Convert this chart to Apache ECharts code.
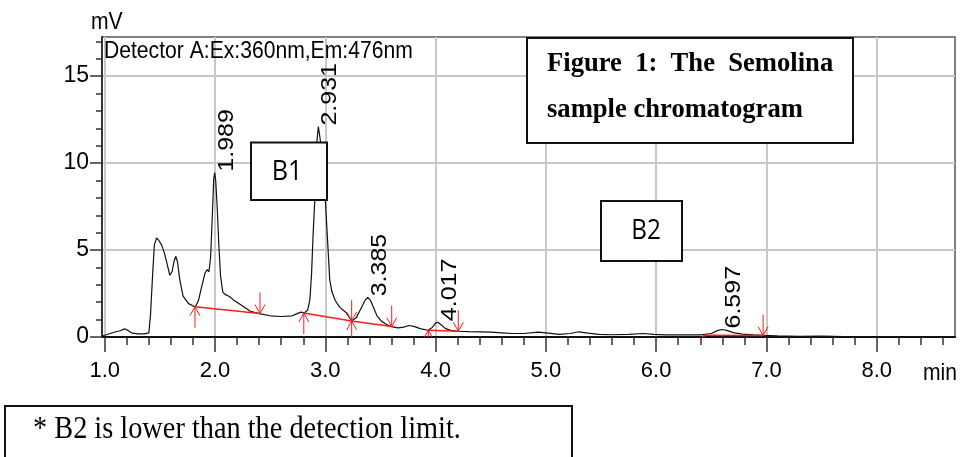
<!DOCTYPE html>
<html>
<head>
<meta charset="UTF-8">
<title>Semolina chromatogram</title>
<script src="https://cdn.jsdelivr.net/npm/echarts@6/dist/echarts.min.js"></script>
<style>
html,body{margin:0;padding:0;background:#fff}
#chart{width:960px;height:457px}
</style>
</head>
<body>
<div id="chart"></div>
<script>
// detector trace: retention time (min) and signal (mV)
var traceTime = [0.975,1.00,1.05,1.10,1.14,1.18,1.21,1.25,1.30,1.36,1.40,1.415,1.435,1.45,1.47,1.49,1.515,1.54,1.56,1.59,
  1.61,1.63,1.645,1.66,1.68,1.71,1.76,1.82,1.85,1.88,1.91,1.93,1.945,1.96,1.975,1.988,1.997,2.006,2.02,2.035,
  2.05,2.07,2.09,2.13,2.17,2.23,2.32,2.41,2.50,2.60,2.70,2.75,2.78,2.81,2.84,2.86,2.875,2.89,2.905,2.92,
  2.937,2.955,2.975,3.00,3.02,3.04,3.06,3.09,3.13,3.19,3.24,3.28,3.32,3.36,3.385,3.41,3.44,3.47,3.51,3.56,
  3.60,3.66,3.71,3.76,3.81,3.86,3.93,3.97,4.00,4.02,4.05,4.09,4.14,4.20,4.30,4.40,4.50,4.60,4.70,4.80,
  4.93,5.02,5.12,5.22,5.30,5.38,5.48,5.60,5.75,5.88,5.98,6.09,6.20,6.30,6.40,6.50,6.56,6.597,6.64,6.70,
  6.78,6.88,6.96,7.10,7.30,7.50,7.70,7.90,8.10,8.30,8.50,8.71];
var traceMv = [0.08,0.10,0.20,0.30,0.36,0.47,0.38,0.22,0.18,0.18,0.24,1.3,3.7,5.3,5.7,5.55,5.3,4.85,4.35,3.55,
  3.75,4.4,4.64,4.3,3.3,2.35,1.92,1.72,2.1,2.92,3.69,3.87,3.75,4.6,6.9,9.1,9.45,9.0,7.4,5.2,
  3.5,2.6,2.45,2.33,2.12,1.87,1.48,1.33,1.22,1.18,1.22,1.36,1.43,1.38,1.55,2.15,3.6,6.0,7.9,11.0,
  12.1,11.3,9.4,7.9,5.6,3.3,2.6,2.1,1.72,1.39,0.93,1.1,1.6,2.1,2.28,2.1,1.65,1.2,0.9,0.7,
  0.6,0.52,0.57,0.66,0.6,0.48,0.39,0.55,0.8,0.85,0.7,0.48,0.38,0.33,0.31,0.30,0.28,0.24,0.2,0.2,
  0.28,0.22,0.15,0.2,0.3,0.22,0.15,0.13,0.15,0.2,0.15,0.12,0.12,0.13,0.12,0.2,0.38,0.43,0.38,0.25,
  0.17,0.12,0.1,0.06,0.04,0.05,0.03,0.03,0.02,0.02,0.03,0.02];

// integration baselines (red), each a pair of [min, mV]
var baseSegments = [
  [[1.818,1.74],[2.408,1.35]],
  [[2.805,1.38],[3.239,0.92]],
  [[3.239,0.92],[3.602,0.60]],
  [[3.934,0.39],[4.206,0.33]],
  [[6.43,0.10],[6.97,0.08]]
];
// integration marks: [min, mV, kind]  kind 0 = start (up), 1 = end (down), 2 = both
var integMarks = [[1.818,1.74,0],[2.408,1.35,1],[2.805,1.38,0],[3.239,0.92,2],[3.602,0.60,1],
  [3.934,0.39,0],[4.206,0.33,1],[6.43,0.10,0],[6.97,0.08,1]];

// peak labels at apex
var peakTimes = [1.997, 2.937, 3.385, 4.02, 6.597];
var peakHeights = [9.45, 12.1, 2.28, 0.85, 0.43];
var peakNames = ['1.989', '2.931', '3.385', '4.017', '6.597'];

// axis ticks
var majorTimes = [1, 2, 3, 4, 5, 6, 7, 8];
var minorTimes = [1.2,1.4,1.6,1.8,2.2,2.4,2.6,2.8,3.2,3.4,3.6,3.8,4.2,4.4,4.6,4.8,5.2,5.4,5.6,5.8,
  6.2,6.4,6.6,6.8,7.2,7.4,7.6,7.8,8.2,8.4,8.6];
var majorMv = [0, 5, 10, 15];
var minorMv = [1,2,3,4,6,7,8,9,11,12,13,14,16,17];

var SANS = '"Liberation Sans", Arial, sans-serif';
var SERIF = '"Liberation Serif", "Times New Roman", serif';

var chart = echarts.init(document.getElementById('chart'));

var series = [{
  type: 'line',
  data: traceTime.map(function (t, i) { return [t, traceMv[i]]; }),
  symbol: 'none',
  lineStyle: {color: '#111', width: 1.2},
  z: 3,
  silent: true
}];
baseSegments.forEach(function (seg) {
  series.push({
    type: 'line', data: seg, symbol: 'none', silent: true, z: 4,
    lineStyle: {color: '#ff1a1a', width: 1.5}
  });
});
series.push({
  type: 'custom',
  data: integMarks,
  clip: true,
  z: 5,
  silent: true,
  renderItem: function (params, api) {
    var p = api.coord([api.value(0), api.value(1)]);
    var kind = api.value(2);
    var L = 21, hw = 5, hh = 9;
    var st = {stroke: '#ff1a1a', lineWidth: 1, fill: null};
    var kids = [];
    if (kind === 0 || kind === 2) {
      kids.push({type: 'polyline', shape: {points: [[p[0], p[1]], [p[0], p[1] + L]]}, style: st});
      kids.push({type: 'polyline', shape: {points: [[p[0] - hw, p[1] + hh], [p[0], p[1]], [p[0] + hw, p[1] + hh]]}, style: st});
    }
    if (kind === 1 || kind === 2) {
      kids.push({type: 'polyline', shape: {points: [[p[0], p[1]], [p[0], p[1] - L]]}, style: st});
      kids.push({type: 'polyline', shape: {points: [[p[0] - hw, p[1] - hh], [p[0], p[1]], [p[0] + hw, p[1] - hh]]}, style: st});
    }
    return {type: 'group', children: kids};
  }
});
series.push({
  type: 'custom',
  data: peakTimes.map(function (t, i) { return [t, peakHeights[i], i]; }),
  z: 6,
  silent: true,
  renderItem: function (params, api) {
    var p = api.coord([api.value(0), api.value(1)]);
    return {
      type: 'text',
      x: p[0] + 12, y: p[1] - 1,
      rotation: Math.PI / 2,
      scaleY: 0.85,
      style: {text: peakNames[api.value(2)], font: '25px "Liberation Sans"', fill: '#000', align: 'left', verticalAlign: 'middle'}
    };
  }
});

var option = {
  animation: false,
  grid: {left: 102, right: 5, top: 37, bottom: 120, show: true, borderColor: '#555', borderWidth: 1.5},
  xAxis: [{
    type: 'value', min: 0.975, max: 8.71, position: 'bottom',
    axisLine: {onZero: false, lineStyle: {color: '#111', width: 2}},
    axisTick: {customValues: majorTimes, length: 15, lineStyle: {color: '#333', width: 1.5}},
    axisLabel: {customValues: majorTimes, margin: 23, color: '#000', fontFamily: SANS, fontSize: 22,
      formatter: function (v) { return v.toFixed(1); }},
    splitLine: {show: true, lineStyle: {color: '#c8c8c8', width: 2}}
  }, {
    type: 'value', min: 0.975, max: 8.71, position: 'bottom',
    axisLine: {show: false},
    axisTick: {customValues: minorTimes, length: 8, lineStyle: {color: '#333', width: 1.5}},
    axisLabel: {show: false},
    splitLine: {show: false}
  }],
  yAxis: [{
    type: 'value', min: 0, max: 17.25, position: 'left',
    axisLine: {show: true, onZero: false, lineStyle: {color: '#333', width: 2}},
    axisTick: {customValues: majorMv, length: 12, lineStyle: {color: '#333', width: 1.5}},
    axisLabel: {customValues: majorMv, margin: 13, color: '#000', fontFamily: SANS, fontSize: 23},
    splitLine: {show: true, lineStyle: {color: '#c8c8c8', width: 2}}
  }, {
    type: 'value', min: 0, max: 17.25, position: 'left',
    axisLine: {show: false},
    axisTick: {customValues: minorMv, length: 6, lineStyle: {color: '#333', width: 1.5}},
    axisLabel: {show: false},
    splitLine: {show: false}
  }],
  series: series,
  graphic: [
    {type: 'text', x: 91, y: 22, z: 50, scaleX: 0.88, style: {text: 'mV', font: '24px ' + SANS, fill: '#000', align: 'left', verticalAlign: 'middle'}},
    {type: 'text', x: 104, y: 51, z: 50, scaleX: 0.88, style: {text: 'Detector A:Ex:360nm,Em:476nm', font: '24px ' + SANS, fill: '#000', align: 'left', verticalAlign: 'middle'}},
    {type: 'text', x: 923, y: 373, z: 50, scaleX: 0.88, style: {text: 'min', font: '24px ' + SANS, fill: '#000', align: 'left', verticalAlign: 'middle'}},
    {type: 'rect', z: 100, shape: {x: 527, y: 38, width: 326, height: 105}, style: {fill: '#fff', stroke: '#111', lineWidth: 2}},
    {type: 'text', x: 547, y: 64, z: 101, scaleX: 0.95, style: {text: 'Figure  1:  The  Semolina', font: 'bold 28px ' + SERIF, fill: '#000', align: 'left', verticalAlign: 'middle'}},
    {type: 'text', x: 547, y: 110, z: 101, scaleX: 0.95, style: {text: 'sample chromatogram', font: 'bold 28px ' + SERIF, fill: '#000', align: 'left', verticalAlign: 'middle'}},
    {type: 'rect', z: 100, shape: {x: 251, y: 142.5, width: 76, height: 57.5}, style: {fill: '#fff', stroke: '#111', lineWidth: 2}},
    {type: 'text', x: 287, y: 172, z: 101, scaleX: 0.9, style: {text: 'B1', font: '28px "Open Sans"', fill: '#000', align: 'center', verticalAlign: 'middle'}},
    {type: 'rect', z: 100, shape: {x: 601, y: 201, width: 81, height: 60}, style: {fill: '#fff', stroke: '#111', lineWidth: 2}},
    {type: 'text', x: 646, y: 231, z: 101, scaleX: 0.9, style: {text: 'B2', font: '27px "Open Sans"', fill: '#000', align: 'center', verticalAlign: 'middle'}},
    {type: 'rect', z: 100, shape: {x: 5, y: 406, width: 567, height: 70}, style: {fill: '#fff', stroke: '#111', lineWidth: 2}},
    {type: 'text', x: 33, y: 429.5, z: 101, scaleX: 0.885, style: {text: '* B2 is lower than the detection limit.', font: '32px ' + SERIF, fill: '#000', align: 'left', verticalAlign: 'middle'}}
  ]
};
chart.setOption(option);
</script>
</body>
</html>
